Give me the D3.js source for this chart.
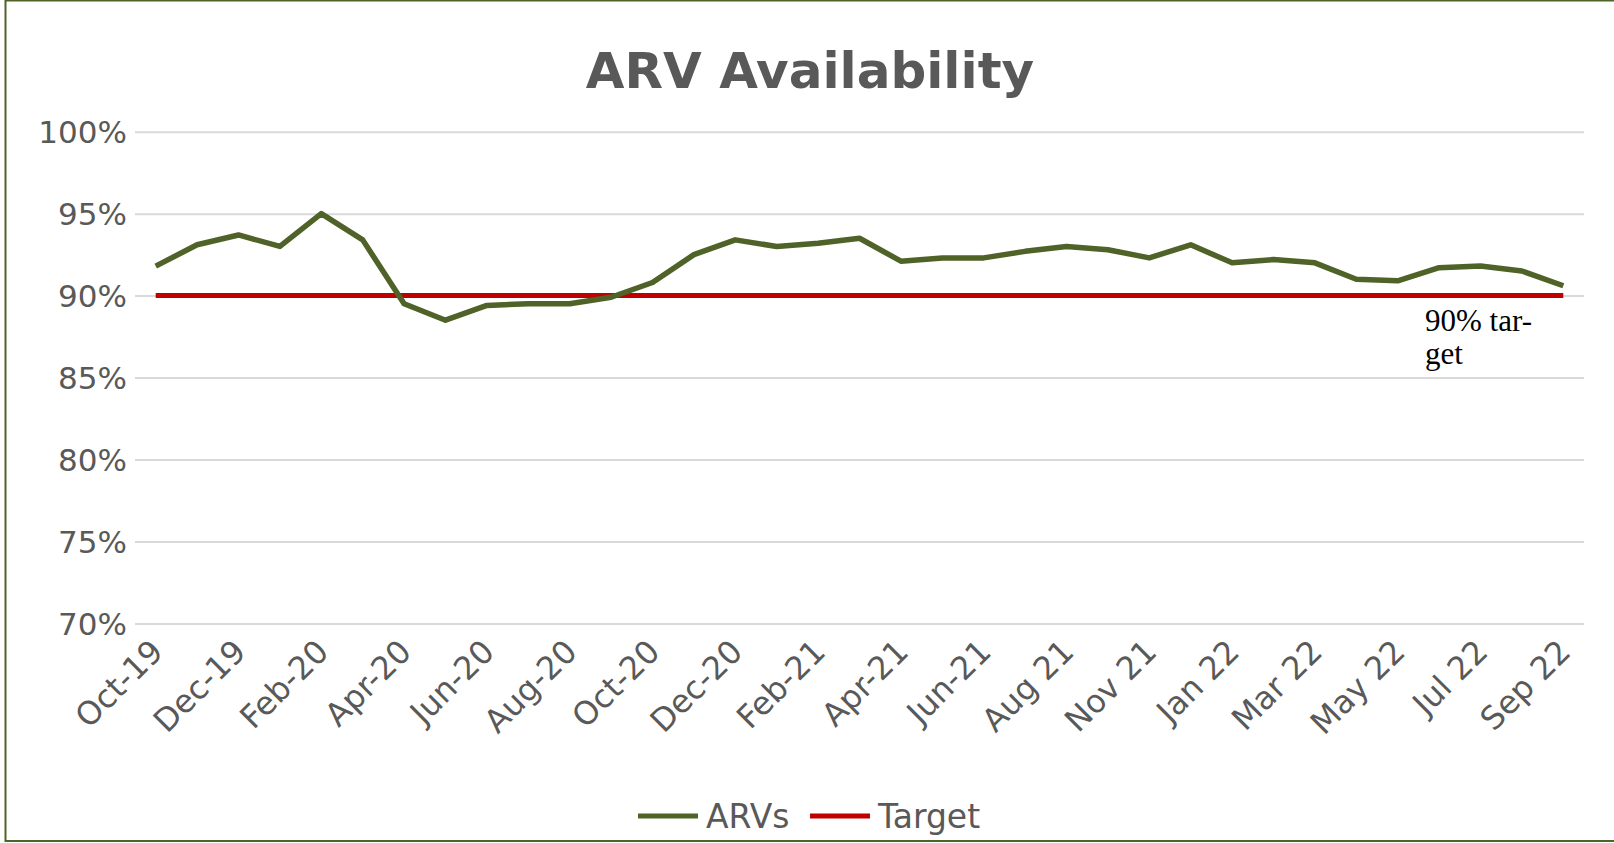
<!DOCTYPE html>
<html>
<head>
<meta charset="utf-8">
<script src="https://cdn.jsdelivr.net/npm/d3@7"></script>
<style>
  html, body { margin: 0; padding: 0; background: #fff; }
  svg { display: block; }
</style>
</head>
<body>
<div id="chart"></div>
<script>
// months on the category axis (one month between Aug 21 and Nov 21 only)
var months = ["Oct-19", "Nov-19", "Dec-19", "Jan-20", "Feb-20", "Mar-20", "Apr-20", "May-20",
  "Jun-20", "Jul-20", "Aug-20", "Sep-20", "Oct-20", "Nov-20", "Dec-20", "Jan-21", "Feb-21",
  "Mar-21", "Apr-21", "May-21", "Jun-21", "Jul-21", "Aug 21", "Sep 21", "Nov 21", "Dec 21",
  "Jan 22", "Feb 22", "Mar 22", "Apr 22", "May 22", "Jun 22", "Jul 22", "Aug 22", "Sep 22"];

// ARV availability, percent
var arvs = [91.8, 93.1, 93.7, 93.0, 95.0, 93.4, 89.5, 88.5, 89.4, 89.5, 89.5, 89.9,
  90.8, 92.5, 93.4, 93.0, 93.2, 93.5, 92.1, 92.3, 92.3, 92.7, 93.0, 92.8, 92.3,
  93.1, 92.0, 92.2, 92.0, 91.0, 90.9, 91.7, 91.8, 91.5, 90.6];

var target = months.map(function() { return 90; });

var yTicks = [70, 75, 80, 85, 90, 95, 100];

var W = 1614, H = 843;
var m = { left: 135, right: 30, top: 131.7, bottom: 219.6 };

var svg = d3.select("#chart").append("svg")
  .attr("width", W)
  .attr("height", H);

// outer border
svg.append("rect")
  .attr("x", 5.5).attr("y", 0.5)
  .attr("width", W + 10).attr("height", 840.5)
  .attr("fill", "#fff")
  .attr("stroke", "#4F6228")
  .attr("stroke-width", 2);

var x = d3.scaleBand().domain(months).range([m.left, W - m.right]);
var y = d3.scaleLinear().domain([70, 100]).range([H - m.bottom, m.top]);
var cx = function(d) { return x(d) + x.bandwidth() / 2; };

// title
svg.append("text")
  .attr("x", 810).attr("y", 88)
  .attr("text-anchor", "middle")
  .style("font-family", "DejaVu Sans")
  .style("font-weight", "bold")
  .style("font-size", "50px")
  .style("fill", "#595959")
  .text("ARV Availability");

// y axis with grid
const yAxis = svg.append("g")
  .attr("transform", "translate(" + m.left + ",0)")
  .call(d3.axisLeft(y).tickValues(yTicks).tickSize(-(W - m.left - m.right)).tickPadding(8)
    .tickFormat(function(d) { return d + "%"; }));
yAxis.select(".domain").remove();
yAxis.selectAll(".tick line").attr("stroke", "#D9D9D9").attr("stroke-width", 2);
yAxis.selectAll(".tick text")
  .style("font-family", "DejaVu Sans")
  .style("font-size", "31px")
  .style("fill", "#595959")
  .attr("dy", "0.36em");

// x axis, every second month labelled
const xAxis = svg.append("g")
  .attr("transform", "translate(0," + (H - m.bottom) + ")")
  .call(d3.axisBottom(x).tickSize(0)
    .tickValues(months.filter(function(d, i) { return i % 2 === 0; })));
xAxis.select(".domain").remove();
xAxis.selectAll(".tick text")
  .style("font-family", "DejaVu Sans")
  .style("font-size", "32px")
  .style("fill", "#595959")
  .attr("text-anchor", "end")
  .attr("dy", 0)
  .attr("transform", "translate(7,28) rotate(-45)");

// lines
var line = d3.line()
  .x(function(d, i) { return cx(months[i]); })
  .y(function(d) { return y(d); });

svg.append("path")
  .datum(target)
  .attr("d", line)
  .attr("fill", "none")
  .attr("stroke", "#C00000")
  .attr("stroke-width", 5);

svg.append("path")
  .datum(arvs)
  .attr("d", line)
  .attr("fill", "none")
  .attr("stroke", "#4F6228")
  .attr("stroke-width", 5.5)
  .attr("stroke-linejoin", "round");

// target note
const note = svg.append("text")
  .attr("x", 1425).attr("y", 331)
  .style("font-family", "Liberation Serif")
  .style("font-size", "31px")
  .style("fill", "#000");
note.append("tspan").attr("x", 1425).text("90% tar-");
note.append("tspan").attr("x", 1425).attr("dy", 33).text("get");

// legend
var legend = [
  { name: "ARVs", color: "#4F6228", x: 638 },
  { name: "Target", color: "#C00000", x: 810 }
];
const lg = svg.append("g").selectAll("g")
  .data(legend)
  .join("g")
  .attr("transform", function(d) { return "translate(" + d.x + ",816)"; });
lg.append("line")
  .attr("x1", 0).attr("x2", 60)
  .attr("stroke", function(d) { return d.color; })
  .attr("stroke-width", 5);
lg.append("text")
  .attr("x", 68).attr("y", 12)
  .style("font-family", "DejaVu Sans")
  .style("font-size", "33px")
  .style("fill", "#595959")
  .text(function(d) { return d.name; });
</script>
</body>
</html>
